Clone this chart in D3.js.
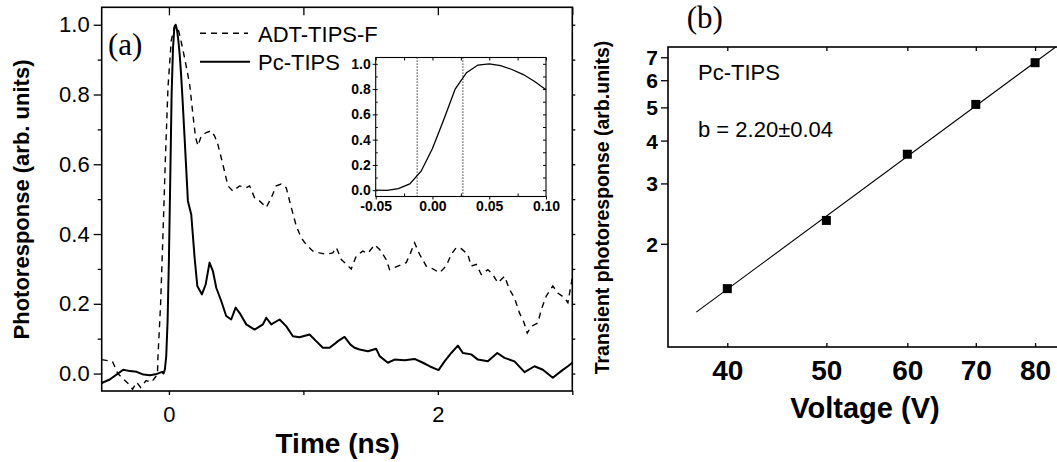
<!DOCTYPE html>
<html><head><meta charset="utf-8">
<script src="https://cdn.jsdelivr.net/npm/d3@7"></script>
<style>
html,body{margin:0;padding:0;background:#fff;}
svg{display:block;}
text{font-family:"Liberation Sans",Arial,sans-serif;fill:#000;}
</style></head>
<body>
<svg id="c" width="1057" height="462"></svg>
<script>
// ---------- data ----------
const pcTime = [-0.50,-0.44,-0.39,-0.34,-0.29,-0.24,-0.19,-0.14,-0.09,-0.05,-0.04,-0.03,-0.02,-0.01,0.00,0.01,0.02,0.03,0.04,0.05,0.06,0.07,0.08,0.09,0.10,0.116,0.141,0.166,0.191,0.211,0.245,0.273,0.302,0.327,0.352,0.389,0.426,0.463,0.496,0.525,0.575,0.637,0.699,0.724,0.761,0.823,0.872,0.922,0.971,1.046,1.095,1.145,1.195,1.232,1.257,1.306,1.35,1.381,1.418,1.48,1.542,1.567,1.628,1.678,1.752,1.827,1.889,1.938,2.005,2.05,2.10,2.149,2.186,2.248,2.298,2.372,2.442,2.496,2.57,2.645,2.719,2.781,2.855,2.917,2.967,3.0];
const pcValue = [-0.027,-0.017,-0.003,0.011,0.007,0.005,-0.003,-0.005,-0.001,0.005,0.0,0.012,0.05,0.15,0.33,0.56,0.80,0.93,0.99,1.0,0.985,0.955,0.915,0.86,0.795,0.68,0.495,0.456,0.332,0.251,0.227,0.255,0.318,0.294,0.246,0.208,0.165,0.155,0.189,0.174,0.141,0.126,0.141,0.160,0.141,0.155,0.136,0.107,0.104,0.112,0.093,0.074,0.074,0.085,0.093,0.105,0.083,0.074,0.069,0.064,0.071,0.050,0.031,0.040,0.038,0.042,0.031,0.021,0.010,0.035,0.059,0.080,0.059,0.055,0.040,0.035,0.059,0.045,0.035,0.004,0.021,0.011,-0.012,0.007,0.021,0.031];

const adtTime = [-0.50,-0.42,-0.38,-0.34,-0.30,-0.27,-0.24,-0.21,-0.17,-0.13,-0.10,-0.085,-0.082,-0.062,-0.045,-0.025,-0.007,0.017,0.042,0.067,0.084,0.116,0.154,0.178,0.198,0.216,0.240,0.278,0.315,0.34,0.364,0.401,0.439,0.476,0.525,0.575,0.60,0.637,0.674,0.724,0.761,0.798,0.835,0.872,0.91,0.947,0.984,1.021,1.071,1.12,1.17,1.219,1.245,1.282,1.356,1.393,1.442,1.48,1.529,1.567,1.616,1.641,1.703,1.765,1.797,1.827,1.864,1.914,1.963,2.013,2.062,2.10,2.137,2.174,2.223,2.248,2.286,2.323,2.372,2.409,2.446,2.496,2.533,2.57,2.607,2.64,2.665,2.694,2.744,2.769,2.806,2.855,2.892,2.942,2.967,3.0];
const adtValue = [0.04,0.035,0.0,-0.015,-0.03,-0.045,-0.025,-0.04,-0.02,-0.025,-0.01,0.0,0.045,0.198,0.39,0.63,0.82,0.954,0.997,0.99,0.964,0.906,0.83,0.744,0.677,0.653,0.681,0.691,0.696,0.681,0.657,0.60,0.538,0.523,0.538,0.533,0.538,0.504,0.495,0.476,0.504,0.538,0.543,0.533,0.476,0.423,0.389,0.37,0.351,0.346,0.342,0.346,0.361,0.327,0.30,0.337,0.351,0.345,0.369,0.356,0.327,0.298,0.308,0.318,0.346,0.375,0.342,0.308,0.30,0.289,0.308,0.342,0.361,0.358,0.342,0.308,0.313,0.284,0.298,0.284,0.260,0.279,0.241,0.217,0.174,0.147,0.116,0.135,0.145,0.183,0.222,0.251,0.231,0.217,0.203,0.275];

const insetTime = [-0.05,-0.04,-0.03,-0.02,-0.01,0.00,0.01,0.02,0.03,0.04,0.05,0.06,0.07,0.08,0.09,0.10];
const insetValue = [0.0,-0.002,0.012,0.05,0.15,0.33,0.56,0.80,0.93,0.99,1.0,0.985,0.955,0.915,0.86,0.795];
const insetMarkers = [-0.0135,0.0268];

const voltage = [40,50,60,70,80];
const transient = [1.48,2.34,3.65,5.10,6.75];
const fitVoltage = [37.3,83.8];
const fitTransient = [1.264,7.5];

const aYTicks = [0,0.2,0.4,0.6,0.8,1.0];
const aYMinor = [0.1,0.3,0.5,0.7,0.9];
const aYRight = [0,0.1,0.2,0.3,0.4,0.5,0.6,0.7,0.8,0.9,1.0];
const aXTicks = [0,1,2,3];
const aXLabels = [0,2];
const insetYTicks = [0,0.2,0.4,0.6,0.8,1.0];
const insetYMinor = [0,0.1,0.2,0.3,0.4,0.5,0.6,0.7,0.8,0.9,1.0];
const insetXTicks = [-0.05,0.00,0.05,0.10];
const insetXMinor = [-0.025,0.025,0.075];
const bXTicks = [40,50,60,70,80];
const bYTicks = [2,3,4,5,6,7];

// ---------- setup ----------
const svg = d3.select("#c");
const BOLD = "bold";

// panel (a)
const A = {l:101.7, r:572.3, t:7.3, b:391};
const xA = d3.scaleLinear([-0.5,3],[A.l,A.r]);
const yA = d3.scaleLinear([-0.05,1.05],[A.b,A.t]);

svg.append("clipPath").attr("id","clipA").append("rect")
  .attr("x",A.l).attr("y",A.t).attr("width",A.r-A.l).attr("height",A.b-A.t);

const gA = svg.append("g").attr("clip-path","url(#clipA)");
const lineA = d3.line().x(d=>xA(d[0])).y(d=>yA(d[1]));
gA.append("path").datum(d3.zip(adtTime,adtValue)).attr("d",lineA)
  .attr("fill","none").attr("stroke","#000").attr("stroke-width",1.4).attr("stroke-dasharray","6,5");
gA.append("path").datum(d3.zip(pcTime,pcValue)).attr("d",lineA)
  .attr("fill","none").attr("stroke","#000").attr("stroke-width",2).attr("stroke-linejoin","round");

function styleAxis(g, fs, weight){
  g.select(".domain").remove();
  g.selectAll("line").attr("stroke","#000").attr("stroke-width",1.3);
  g.selectAll("text").attr("font-family","Liberation Sans, Arial, sans-serif")
   .attr("font-size",fs).attr("font-weight",weight||"normal").attr("fill","#000");
}

// left major
let g = svg.append("g").attr("transform",`translate(${A.l},0)`)
  .call(d3.axisLeft(yA).tickValues(aYTicks).tickFormat(d3.format(".1f")).tickSize(8).tickPadding(4));
styleAxis(g,22);
g = svg.append("g").attr("transform",`translate(${A.l},0)`)
  .call(d3.axisLeft(yA).tickValues(aYMinor).tickFormat("").tickSize(4));
styleAxis(g,22);
// right
g = svg.append("g").attr("transform",`translate(${A.r},0)`)
  .call(d3.axisRight(yA).tickValues(aYRight).tickFormat("").tickSize(3));
styleAxis(g,22);
// top (inward)
g = svg.append("g").attr("transform",`translate(0,${A.t})`)
  .call(d3.axisBottom(xA).tickValues(aXTicks).tickFormat("").tickSize(8));
styleAxis(g,22);
// bottom
g = svg.append("g").attr("transform",`translate(0,${A.b})`)
  .call(d3.axisBottom(xA).tickValues(aXTicks).tickFormat(d=>aXLabels.includes(d)?d3.format("d")(d):"").tickSize(4));
styleAxis(g,22);
g.selectAll("text").attr("y",30.5).attr("dy",0);

svg.append("rect").attr("x",A.l).attr("y",A.t).attr("width",A.r-A.l).attr("height",A.b-A.t)
  .attr("fill","none").attr("stroke","#000").attr("stroke-width",1.6);

// labels (a)
svg.append("text").attr("transform","translate(28.5,199.5) rotate(-90)").attr("text-anchor","middle")
  .attr("font-size",22).attr("font-weight",BOLD).text("Photoresponse (arb. units)");
svg.append("text").attr("x",337.5).attr("y",453).attr("text-anchor","middle")
  .attr("font-size",28).attr("font-weight",BOLD).text("Time (ns)");
svg.append("text").attr("x",108).attr("y",55).attr("font-family","Liberation Serif, Times New Roman, serif")
  .style("font-family","'Liberation Serif','Times New Roman',serif").attr("font-size",31).text("(a)");

// legend
svg.append("line").attr("x1",200).attr("x2",248).attr("y1",33.3).attr("y2",33.3)
  .attr("stroke","#000").attr("stroke-width",1.4).attr("stroke-dasharray","6,5");
svg.append("text").attr("x",258).attr("y",41.7).attr("font-size",22).text("ADT-TIPS-F");
svg.append("line").attr("x1",200).attr("x2",250).attr("y1",61.7).attr("y2",61.7)
  .attr("stroke","#000").attr("stroke-width",2);
svg.append("text").attr("x",258).attr("y",70).attr("font-size",22).text("Pc-TIPS");

// ---------- inset ----------
const I = {l:375.7, r:546, t:57.5, b:196.5};
const xI = d3.scaleLinear([-0.05,0.10],[I.l,I.r]);
const yI = d3.scaleLinear([-0.05,1.05],[I.b,I.t]);
svg.append("rect").attr("x",I.l).attr("y",I.t).attr("width",I.r-I.l).attr("height",I.b-I.t).attr("fill","#fff");
insetMarkers.forEach(m=>{
  svg.append("line").attr("x1",xI(m)).attr("x2",xI(m)).attr("y1",I.t).attr("y2",I.b)
    .attr("stroke","#000").attr("stroke-width",1).attr("stroke-dasharray","1.2,1.8");
});
svg.append("path").datum(d3.zip(insetTime,insetValue))
  .attr("d",d3.line().x(d=>xI(d[0])).y(d=>yI(d[1])))
  .attr("fill","none").attr("stroke","#000").attr("stroke-width",1.3);
g = svg.append("g").attr("transform",`translate(${I.l},0)`)
  .call(d3.axisLeft(yI).tickValues(insetYTicks).tickFormat(d3.format(".1f")).tickSize(3).tickPadding(2));
styleAxis(g,14,BOLD); g.selectAll("line").attr("stroke-width",1);
g = svg.append("g").attr("transform",`translate(${I.l},0)`)
  .call(d3.axisRight(yI).tickValues(insetYMinor).tickFormat("").tickSize(2));
styleAxis(g,14); g.selectAll("line").attr("stroke-width",1);
g = svg.append("g").attr("transform",`translate(${I.r},0)`)
  .call(d3.axisLeft(yI).tickValues(insetYMinor).tickFormat("").tickSize(3));
styleAxis(g,14); g.selectAll("line").attr("stroke-width",1);
g = svg.append("g").attr("transform",`translate(0,${I.b})`)
  .call(d3.axisBottom(xI).tickValues(insetXTicks).tickFormat(d3.format(".2f")).tickSize(3).tickPadding(2));
styleAxis(g,14,BOLD); g.selectAll("line").attr("stroke-width",1);
g.selectAll("text").text(d=>d3.format(".2f")(d).replace("−","-"));
g = svg.append("g").attr("transform",`translate(0,${I.b})`)
  .call(d3.axisTop(xI).tickValues(insetXMinor).tickFormat("").tickSize(3));
styleAxis(g,14); g.selectAll("line").attr("stroke-width",1);
g = svg.append("g").attr("transform",`translate(0,${I.t})`)
  .call(d3.axisBottom(xI).tickValues(insetXTicks.concat(insetXMinor)).tickFormat("").tickSize(3));
styleAxis(g,14); g.selectAll("line").attr("stroke-width",1);
svg.append("rect").attr("x",I.l).attr("y",I.t).attr("width",I.r-I.l).attr("height",I.b-I.t)
  .attr("fill","none").attr("stroke","#000").attr("stroke-width",1.1);

// ---------- panel (b) ----------
const B = {l:668, r:1062, t:47, b:347};
const xB = d3.scaleLog([35,85],[B.l,B.r]);
const yB = d3.scaleLog([1,7.5],[B.b,B.t]);

svg.append("clipPath").attr("id","clipB").append("rect")
  .attr("x",B.l).attr("y",B.t).attr("width",B.r-B.l).attr("height",B.b-B.t);
svg.append("path").attr("clip-path","url(#clipB)").datum(d3.zip(fitVoltage,fitTransient))
  .attr("d",d3.line().x(d=>xB(d[0])).y(d=>yB(d[1])))
  .attr("fill","none").attr("stroke","#000").attr("stroke-width",1.1);
svg.selectAll("rect.pt").data(d3.zip(voltage,transient)).join("rect").attr("class","pt")
  .attr("x",d=>xB(d[0])-4.5).attr("y",d=>yB(d[1])-4.5).attr("width",9).attr("height",9).attr("fill","#000");

g = svg.append("g").attr("transform",`translate(${B.l},0)`)
  .call(d3.axisLeft(yB).tickValues(bYTicks).tickFormat(d3.format("d")).tickSize(7).tickPadding(3));
styleAxis(g,21,BOLD);
g.selectAll("text").attr("dy","0.36em");
g = svg.append("g").attr("transform",`translate(0,${B.b})`)
  .call(d3.axisBottom(xB).tickValues(bXTicks).tickFormat(d3.format("d")).tickSize(-4));
styleAxis(g,28,BOLD);
g.selectAll("text").attr("y",33).attr("dy",0);
g = svg.append("g").attr("transform",`translate(0,${B.t})`)
  .call(d3.axisTop(xB).tickValues(bXTicks).tickFormat("").tickSize(-4));
styleAxis(g,28);

svg.append("rect").attr("x",B.l).attr("y",B.t).attr("width",B.r-B.l).attr("height",B.b-B.t)
  .attr("fill","none").attr("stroke","#000").attr("stroke-width",1.6);

svg.append("text").attr("transform","translate(609,207.5) rotate(-90)").attr("text-anchor","middle")
  .attr("font-size",19.5).attr("font-weight",BOLD).text("Transient photoresponse (arb.units)");
svg.append("text").attr("x",865).attr("y",418).attr("text-anchor","middle")
  .attr("font-size",29).attr("font-weight",BOLD).text("Voltage (V)");
svg.append("text").attr("x",698).attr("y",80).attr("font-size",22).text("Pc-TIPS");
svg.append("text").attr("x",698).attr("y",136.7).attr("font-size",22).text("b = 2.20±0.04");
svg.append("text").attr("x",686.7).attr("y",28)
  .style("font-family","'Liberation Serif','Times New Roman',serif").attr("font-size",31).text("(b)");
</script>
</body></html>
